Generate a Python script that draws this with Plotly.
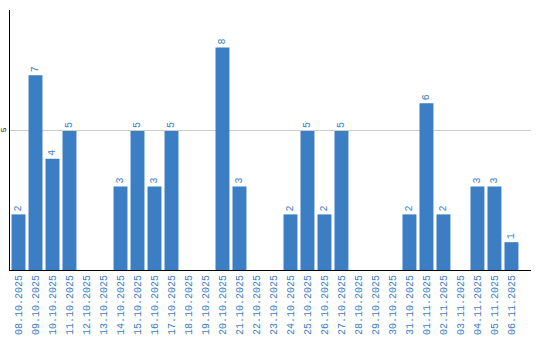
import plotly.graph_objects as go

dates = ["08.10.2025","09.10.2025","10.10.2025","11.10.2025","12.10.2025","13.10.2025",
         "14.10.2025","15.10.2025","16.10.2025","17.10.2025","18.10.2025","19.10.2025",
         "20.10.2025","21.10.2025","22.10.2025","23.10.2025","24.10.2025","25.10.2025",
         "26.10.2025","27.10.2025","28.10.2025","29.10.2025","30.10.2025","31.10.2025",
         "01.11.2025","02.11.2025","03.11.2025","04.11.2025","05.11.2025","06.11.2025"]
values = [2,7,4,5,0,0,3,5,3,5,0,0,8,3,0,0,2,5,2,5,0,0,0,2,6,2,0,3,3,1]
labels = [str(v) if v else "" for v in values]

blue = "#3b7ec3"
font = "Liberation Mono"

fig = go.Figure(go.Bar(
    x=list(range(len(dates))), y=values, text=labels,
    textposition="outside", textangle=-90, cliponaxis=False,
    textfont=dict(family=font, size=10, color=blue),
    marker=dict(color=blue, line=dict(width=0)),
))
fig.update_layout(
    width=540, height=340, margin=dict(l=10, r=9, t=10, b=70, autoexpand=False),
    paper_bgcolor="white", plot_bgcolor="white", bargap=0.18,
    showlegend=False, uniformtext=dict(mode=False),
)
fig.update_xaxes(
    range=[-0.5, 30.15], tickmode="array", tickvals=list(range(len(dates))),
    ticktext=dates, tickangle=-90, tickfont=dict(family=font, size=10, color=blue),
    showline=True, linecolor="black", linewidth=1, showgrid=False, ticks="",
    zeroline=False, automargin=False,
)
fig.update_yaxes(
    range=[0, 9.35], tickvals=[5], ticktext=["5"], tickangle=-90,
    tickfont=dict(family=font, size=8, color="black"),
    showline=True, linecolor="black", linewidth=1, showgrid=True,
    gridcolor="#cccccc", gridwidth=1, zeroline=False, ticks="", automargin=False,
)
fig.write_html("out.html")
